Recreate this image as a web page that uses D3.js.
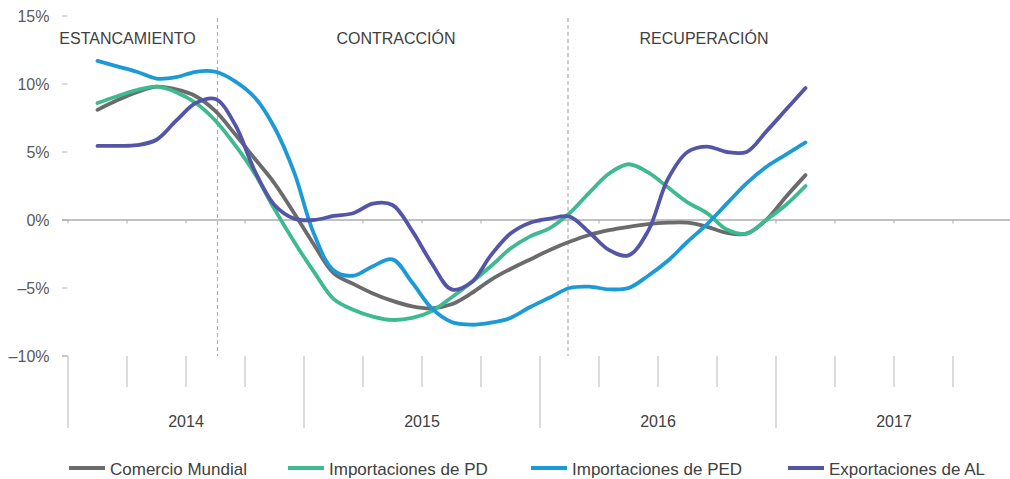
<!DOCTYPE html>
<html>
<head>
<meta charset="utf-8">
<script src="https://cdn.jsdelivr.net/npm/d3@7"></script>
<style>
  html, body { margin: 0; padding: 0; background: #fff; }
  svg { display: block; font-family: "Liberation Sans", Arial, sans-serif; }
</style>
</head>
<body>
<svg id="chart" width="1010" height="479"></svg>
<script>
// ---- Data ----
const years = ["2014", "2015", "2016", "2017"];
const monthNames = ["ene","feb","mar","abr","may","jun","jul","ago","sep","oct","nov","dic"];
// All months on the axis (Jan 2014 - Dec 2017)
const allMonths = [];
years.forEach(yr => monthNames.forEach(m => allMonths.push(m + "-" + yr.slice(2))));
// Months with data (Feb 2014 - Feb 2017)
const dataMonths = allMonths.slice(1, 38);

const comercioMundial = [8.1, 8.8, 9.4, 9.8, 9.6, 9.1, 8.0, 6.3, 4.5, 2.7, 0.5, -1.8,
  -3.9, -4.7, -5.4, -5.95, -6.35, -6.5, -6.2, -5.4, -4.4, -3.6, -2.9, -2.2,
  -1.6, -1.1, -0.75, -0.5, -0.3, -0.2, -0.2, -0.5, -0.95, -1.0, 0.0, 1.7, 3.3];
const importacionesPD = [8.6, 9.1, 9.55, 9.8, 9.4, 8.6, 7.3, 5.5, 3.4, 0.8, -1.6, -3.8,
  -5.8, -6.6, -7.1, -7.35, -7.2, -6.7, -5.7, -4.6, -3.4, -2.1, -1.2, -0.6,
  0.5, 2.0, 3.4, 4.1, 3.5, 2.4, 1.3, 0.5, -0.7, -1.0, 0.0, 1.1, 2.5];
const importacionesPED = [11.7, 11.3, 10.9, 10.4, 10.5, 10.9, 10.9, 10.2, 9.0, 6.8, 3.5, -1.0,
  -3.7, -4.1, -3.4, -2.9, -4.6, -6.5, -7.5, -7.7, -7.55, -7.2, -6.4, -5.7,
  -5.0, -4.9, -5.1, -5.0, -4.1, -3.0, -1.6, -0.3, 1.2, 2.7, 3.9, 4.8, 5.7];
const exportacionesAL = [5.45, 5.45, 5.5, 5.9, 7.3, 8.6, 8.9, 7.0, 3.6, 1.1, 0.1, 0.0,
  0.3, 0.5, 1.2, 1.1, -0.8, -3.2, -5.1, -4.6, -2.6, -1.0, -0.2, 0.1,
  0.25, -0.9, -2.2, -2.6, -0.8, 3.0, 5.0, 5.4, 5.0, 5.0, 6.5, 8.1, 9.7];

const seriesNames = ["Comercio Mundial", "Importaciones de PD", "Importaciones de PED", "Exportaciones de AL"];
const seriesValues = [comercioMundial, importacionesPD, importacionesPED, exportacionesAL];
const seriesColors = ["#6b6b6d", "#3dba8f", "#1b9ad6", "#5356a7"];

const yTicks = [15, 10, 5, 0, -5, -10];
const phases = ["ESTANCAMIENTO", "CONTRACCIÓN", "RECUPERACIÓN"];
const phaseDividers = ["ago-14", "feb-16"];

// ---- Scales ----
const svg = d3.select("#chart");
const plotLeft = 68, plotRight = 1012, plotTop = 16, plotBottom = 356;
const x = d3.scaleBand().domain(allMonths).range([plotLeft, plotRight]).paddingInner(0).paddingOuter(0);
const bw = x.bandwidth();
const xc = m => x(m) + bw / 2;
const y = d3.scaleLinear().domain([-10, 15]).range([plotBottom, plotTop]);

const fmtPct = v => (v < 0 ? "\u2013" + Math.abs(v) : v) + "%";

// ---- Y axis ----
const yAxis = svg.append("g");
yAxis.selectAll("line.tick").data(yTicks).join("line")
  .attr("x1", 62).attr("x2", 67.5)
  .attr("y1", d => y(d)).attr("y2", d => y(d))
  .attr("stroke", "#b5b5b5").attr("stroke-width", 1);
yAxis.selectAll("text").data(yTicks).join("text")
  .attr("x", 49.5).attr("y", d => y(d) + 6)
  .attr("text-anchor", "end")
  .attr("font-size", 16).attr("fill", "#595959")
  .text(fmtPct);

// ---- Zero line with small ticks ----
svg.append("line")
  .attr("x1", 62).attr("x2", plotRight)
  .attr("y1", y(0)).attr("y2", y(0))
  .attr("stroke", "#adadad").attr("stroke-width", 1.5);
const quarterStarts = allMonths.filter((m, i) => i % 3 === 0).concat([null]);
const qx = m => m === null ? plotRight : x(m);
svg.selectAll("line.ztick").data(quarterStarts).join("line")
  .attr("class", "ztick")
  .attr("x1", d => qx(d)).attr("x2", d => qx(d))
  .attr("y1", y(0)).attr("y2", y(0) + 3.5)
  .attr("stroke", "#adadad").attr("stroke-width", 1);

// ---- Bottom category axis ----
svg.append("line")
  .attr("x1", 62).attr("x2", plotLeft)
  .attr("y1", plotBottom).attr("y2", plotBottom)
  .attr("stroke", "#b5b5b5").attr("stroke-width", 1);
svg.selectAll("line.qtick").data(quarterStarts).join("line")
  .attr("class", "qtick")
  .attr("x1", d => qx(d)).attr("x2", d => qx(d))
  .attr("y1", plotBottom)
  .attr("y2", (d, i) => (i % 4 === 0) ? 428 : 387)
  .attr("stroke", "#c4c4c4").attr("stroke-width", 1.2);
svg.selectAll("text.year").data(years).join("text")
  .attr("class", "year")
  .attr("x", (d, i) => (x(allMonths[i * 12]) + (i < 3 ? x(allMonths[i * 12 + 12]) : plotRight)) / 2)
  .attr("y", 427)
  .attr("text-anchor", "middle")
  .attr("font-size", 16).attr("fill", "#404040")
  .text(d => d);

// ---- Phase dividers & labels ----
const dividerOffset = [2, -1.5];
const divX = (d, i) => xc(d) + dividerOffset[i];
svg.selectAll("line.div").data(phaseDividers).join("line")
  .attr("class", "div")
  .attr("x1", divX).attr("x2", divX)
  .attr("y1", 18).attr("y2", plotBottom)
  .attr("stroke", "#b0b0b0").attr("stroke-width", 1.2)
  .attr("stroke-dasharray", "4,3");
const phaseLabelX = [127.5, 396, 704];
svg.selectAll("text.phase").data(phases).join("text")
  .attr("class", "phase")
  .attr("x", (d, i) => phaseLabelX[i])
  .attr("y", 44)
  .attr("text-anchor", "middle")
  .attr("font-size", 16).attr("fill", "#404040")
  .text(d => d);

// ---- Lines ----
const line = d3.line()
  .x((d, i) => xc(dataMonths[i]))
  .y(d => y(d))
  .curve(d3.curveCatmullRom.alpha(0.5));
svg.selectAll("path.series").data(seriesValues).join("path")
  .attr("class", "series")
  .attr("fill", "none")
  .attr("stroke", (d, i) => seriesColors[i])
  .attr("stroke-width", 3.8)
  .attr("stroke-linecap", "round")
  .attr("stroke-linejoin", "round")
  .attr("d", line);

// ---- Legend ----
const legendX = [69, 288, 531, 788];
const lg = svg.selectAll("g.legend").data(seriesNames).join("g")
  .attr("class", "legend")
  .attr("transform", (d, i) => `translate(${legendX[i]},468)`);
lg.append("line")
  .attr("x1", 0).attr("x2", 36).attr("y1", 0).attr("y2", 0)
  .attr("stroke", (d, i) => seriesColors[i]).attr("stroke-width", 4);
lg.append("text")
  .attr("x", 41).attr("y", 6.5)
  .attr("font-size", 17).attr("fill", "#404040")
  .text(d => d);
</script>
</body>
</html>
